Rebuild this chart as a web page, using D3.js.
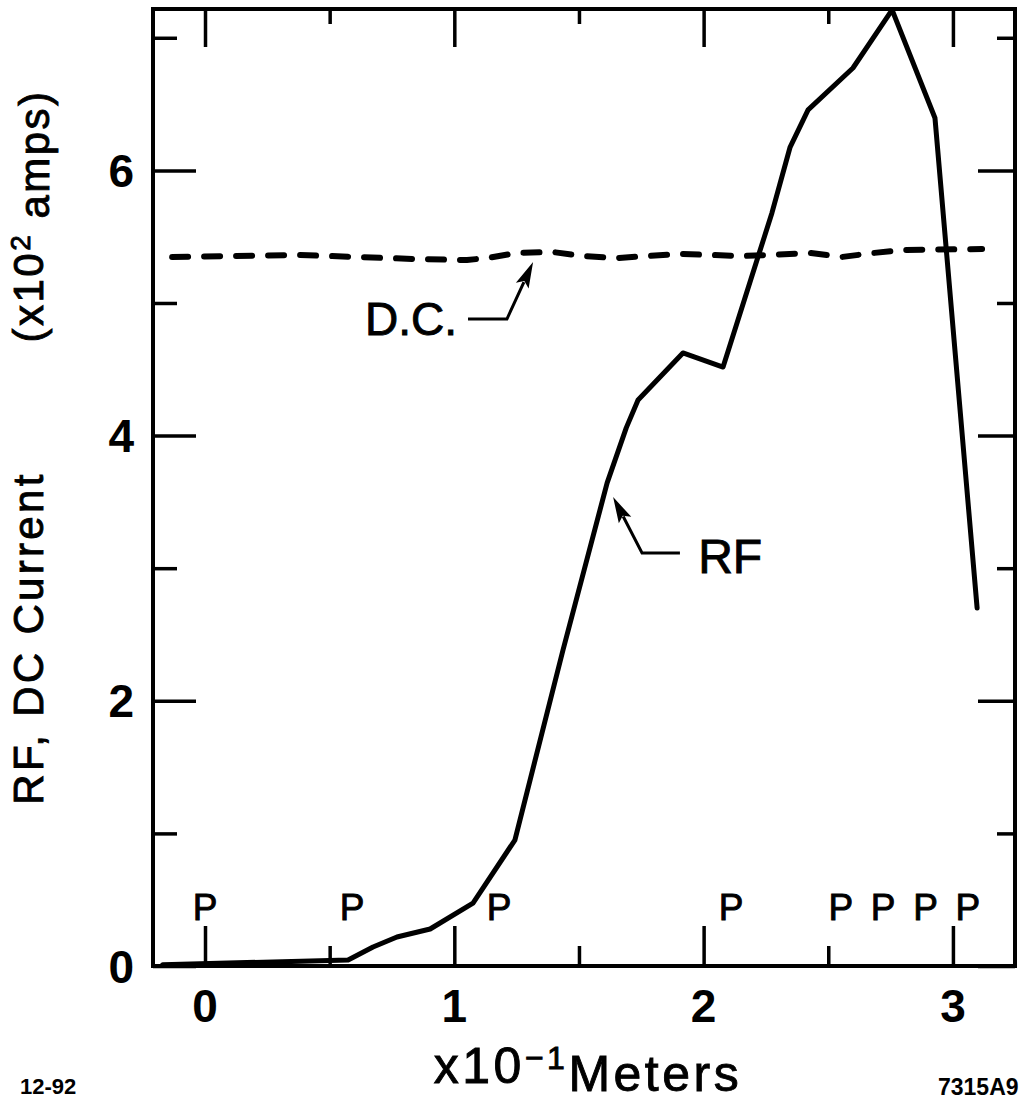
<!DOCTYPE html>
<html>
<head>
<meta charset="utf-8">
<script src="https://cdn.jsdelivr.net/npm/d3@7"></script>
<style>
    body { margin: 0; background: #fff; }
    svg text { font-family: "Liberation Sans", Arial, Helvetica, sans-serif; fill: #000; }
    svg text.medium { stroke: #000; stroke-width: 0.9px; }
</style>
</head>
<body>
<div id="chart"></div>
<script>
// RF current along the structure (x10^-1 m, x10^2 A)
var rfX = [-0.17, 0.574, 0.674, 0.770, 0.903, 1.075, 1.243, 1.436, 1.613, 1.690, 1.737, 1.917, 2.078, 2.274, 2.347, 2.419, 2.599, 2.756, 2.928, 3.097];
var rfY = [0.01, 0.045, 0.143, 0.219, 0.279, 0.475, 0.950, 2.383, 3.643, 4.06, 4.268, 4.623, 4.517, 5.679, 6.176, 6.456, 6.772, 7.210, 6.395, 2.700];

// DC current
var dcX = [-0.132, 0.381, 0.834, 1.051, 1.131, 1.252, 1.392, 1.516, 1.653, 1.905, 2.158, 2.427, 2.555, 2.680, 2.808, 3.117];
var dcY = [5.347, 5.362, 5.332, 5.324, 5.339, 5.377, 5.385, 5.354, 5.339, 5.370, 5.354, 5.377, 5.347, 5.377, 5.400, 5.407];

// "P" marker positions
var pX = [0, 0.59, 1.18, 2.11, 2.55, 2.72, 2.89, 3.06];

var xMajor = [0, 1, 2, 3];
var xMinor = [0.5, 1.5, 2.5];
var yMajor = [0, 2, 4, 6];
var yMinor = [1, 3, 5, 7];

var rf = rfX.map(function (d, i) { return {x: d, y: rfY[i]}; });
var dc = dcX.map(function (d, i) { return {x: d, y: dcY[i]}; });

var plotLeft = 153, plotRight = 1015, plotTop = 9, plotBottom = 966;

var xScale = d3.scaleLinear().domain([-0.2086, 3.249]).range([plotLeft, plotRight]);
var yScale = d3.scaleLinear().domain([0, 7.217]).range([plotBottom, plotTop]);

var svg = d3.select("#chart")
    .append("svg")
    .attr("width", 1024)
    .attr("height", 1102);

// axes on all four sides, ticks pointing inward
var tickMajor = 40, tickMinor = 20;

svg.append("g")
    .attr("transform", "translate(0," + plotBottom + ")")
    .call(d3.axisTop(xScale).tickValues(xMajor).tickSize(tickMajor).tickFormat(""));
svg.append("g")
    .attr("transform", "translate(0," + plotBottom + ")")
    .call(d3.axisTop(xScale).tickValues(xMinor).tickSize(tickMinor).tickFormat(""));
svg.append("g")
    .attr("transform", "translate(0," + plotTop + ")")
    .call(d3.axisBottom(xScale).tickValues(xMajor).tickSize(tickMajor - 2).tickFormat(""));
svg.append("g")
    .attr("transform", "translate(0," + plotTop + ")")
    .call(d3.axisBottom(xScale).tickValues(xMinor).tickSize(tickMinor - 5).tickFormat(""));

svg.append("g")
    .attr("transform", "translate(" + plotLeft + ",0)")
    .call(d3.axisRight(yScale).tickValues(yMajor).tickSize(tickMajor + 3).tickFormat(""));
svg.append("g")
    .attr("transform", "translate(" + plotLeft + ",0)")
    .call(d3.axisRight(yScale).tickValues(yMinor).tickSize(tickMinor + 4).tickFormat(""));
svg.append("g")
    .attr("transform", "translate(" + plotRight + ",0)")
    .call(d3.axisLeft(yScale).tickValues(yMajor).tickSize(tickMajor - 3).tickFormat(""));
svg.append("g")
    .attr("transform", "translate(" + plotRight + ",0)")
    .call(d3.axisLeft(yScale).tickValues(yMinor).tickSize(tickMinor - 2).tickFormat(""));

svg.selectAll("path.domain").remove();
svg.selectAll(".tick line")
    .attr("stroke", "#000")
    .attr("stroke-width", 3.5);

// frame
svg.append("rect")
    .attr("x", plotLeft)
    .attr("y", plotTop)
    .attr("width", plotRight - plotLeft)
    .attr("height", plotBottom - plotTop)
    .attr("fill", "none")
    .attr("stroke", "#000")
    .attr("stroke-width", 4);

// tick labels
svg.selectAll(".xlab")
    .data(xMajor)
    .enter().append("text")
    .attr("class", "xlab")
    .attr("x", function (d) { return xScale(d); })
    .attr("y", 1022)
    .attr("text-anchor", "middle")
    .style("font-size", "46px")
    .style("font-weight", "bold")
    .text(function (d) { return d; });

svg.selectAll(".ylab")
    .data(yMajor)
    .enter().append("text")
    .attr("class", "ylab")
    .attr("x", 134)
    .attr("y", function (d) { return yScale(d); })
    .attr("dy", "0.36em")
    .attr("text-anchor", "end")
    .style("font-size", "46px")
    .style("font-weight", "bold")
    .text(function (d) { return d; });

// lines
var line = d3.line()
    .x(function (d) { return xScale(d.x); })
    .y(function (d) { return yScale(d.y); });

svg.append("path")
    .attr("d", line(dc))
    .attr("fill", "none")
    .attr("stroke", "#000")
    .attr("stroke-width", 6)
    .attr("stroke-linecap", "round")
    .attr("stroke-dasharray", "16,16");

svg.append("path")
    .attr("d", line(rf))
    .attr("fill", "none")
    .attr("stroke", "#000")
    .attr("stroke-width", 5)
    .attr("stroke-linejoin", "round")
    .attr("stroke-linecap", "round");

// P markers
svg.selectAll(".pmark")
    .data(pX)
    .enter().append("text")
    .attr("class", "pmark medium")
    .attr("x", function (d) { return xScale(d); })
    .attr("y", yScale(0.347))
    .attr("text-anchor", "middle")
    .style("font-size", "37px")
    .text("P");

// annotation leaders with arrowheads
var dcLeader = [{x: 1.055, y: 4.879}, {x: 1.211, y: 4.879}, {x: 1.316, y: 5.309}];
var rfLeader = [{x: 1.905, y: 3.115}, {x: 1.753, y: 3.115}, {x: 1.637, y: 3.537}];

function drawLeader(pts) {
    var tip = pts[pts.length - 1], prev = pts[pts.length - 2];
    var tx = xScale(tip.x), ty = yScale(tip.y);
    var px = xScale(prev.x), py = yScale(prev.y);
    var len = Math.sqrt((tx - px) * (tx - px) + (ty - py) * (ty - py));
    var ux = (tx - px) / len, uy = (ty - py) / len;
    var headLen = 26, headHalf = 7;
    var bx = tx - ux * headLen, by = ty - uy * headLen;

    svg.append("path")
        .attr("d", line(pts.slice(0, -1)) + "L" + (bx + ux * 4) + "," + (by + uy * 4))
        .attr("fill", "none")
        .attr("stroke", "#000")
        .attr("stroke-width", 3);

    svg.append("path")
        .attr("d", "M" + tx + "," + ty +
            "L" + (bx - uy * headHalf) + "," + (by + ux * headHalf) +
            "L" + (bx + ux * 5) + "," + (by + uy * 5) +
            "L" + (bx + uy * headHalf) + "," + (by - ux * headHalf) + "Z")
        .attr("fill", "#000");
}
drawLeader(dcLeader);
drawLeader(rfLeader);

svg.append("text")
    .attr("class", "medium")
    .attr("x", xScale(1.011))
    .attr("y", yScale(4.759))
    .attr("text-anchor", "end")
    .style("font-size", "46px")
    .text("D.C.");

svg.append("text")
    .attr("class", "medium")
    .attr("x", xScale(1.978))
    .attr("y", yScale(2.964))
    .attr("text-anchor", "start")
    .style("font-size", "48px")
    .text("RF");

// axis titles
svg.append("text")
    .attr("class", "medium")
    .attr("transform", "translate(43,638) rotate(-90)")
    .attr("text-anchor", "middle")
    .style("font-size", "42px")
    .style("letter-spacing", "3.3px")
    .text("RF, DC Current");

var yt2 = svg.append("text")
    .attr("class", "medium")
    .attr("transform", "translate(43,216) rotate(-90)")
    .attr("text-anchor", "middle")
    .style("font-size", "42px")
    .style("letter-spacing", "2.5px");
yt2.append("tspan").text("(x10");
yt2.append("tspan").attr("dy", "-0.45em").style("font-size", "28px").text("2");
yt2.append("tspan").attr("dy", "0.45em").text(" amps)");

var xt = svg.append("text")
    .attr("class", "medium")
    .attr("x", 588)
    .attr("y", 1083)
    .attr("text-anchor", "middle")
    .style("font-size", "50px")
    .style("letter-spacing", "3.5px");
xt.append("tspan").text("x10");
xt.append("tspan").attr("dy", "-0.45em").style("font-size", "32px").text("\u22121");
xt.append("tspan").attr("dy", "0.45em").text("Meters");

svg.append("text")
    .attr("x", 20)
    .attr("y", 1094)
    .style("font-size", "22px")
    .style("font-weight", "bold")
    .text("12-92");

svg.append("text")
    .attr("x", 938)
    .attr("y", 1095)
    .style("font-size", "23px")
    .style("font-weight", "bold")
    .text("7315A9");
</script>
</body>
</html>
